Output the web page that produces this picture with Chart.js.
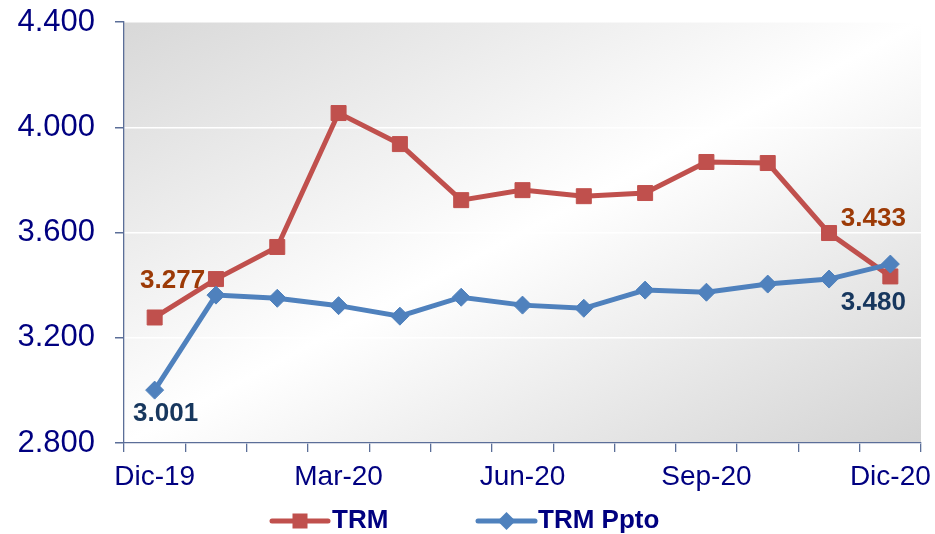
<!DOCTYPE html>
<html>
<head>
<meta charset="utf-8">
<script src="https://cdn.jsdelivr.net/npm/chart.js@4"></script>
<style>
html,body{margin:0;padding:0;background:#fff;}
#wrap{width:935px;height:534px;position:relative;}
</style>
</head>
<body>
<div id="wrap"><canvas id="c" width="935" height="534"></canvas></div>
<script>
const categories = ['Dic-19','Ene-20','Feb-20','Mar-20','Abr-20','May-20','Jun-20','Jul-20','Ago-20','Sep-20','Oct-20','Nov-20','Dic-20'];
const trm = [3277, 3423, 3545, 4054, 3936, 3723, 3761, 3738, 3750, 3868, 3864, 3598, 3433];
const trmPpto = [3001, 3362, 3350, 3322, 3282, 3354, 3324, 3312, 3381, 3373, 3404, 3423, 3480];
const yTicks = [2800, 3200, 3600, 4000, 4400];
const seriesNames = ['TRM', 'TRM Ppto'];

const FONT = "'Liberation Sans', Arial, sans-serif";
const AXIS = '#5B6E98';
const NAVY = '#000080';
const RED = '#C0504D';
const BLUE = '#4F81BD';

function fmt(v){ return (v/1000).toFixed(3); }

const bgPlugin = {
  id: 'bg',
  beforeDraw(chart){
    const {ctx, chartArea:a} = chart;
    ctx.save();
    ctx.translate(a.left, a.top);
    ctx.scale(a.right - a.left, a.bottom - a.top);
    const g = ctx.createLinearGradient(0,0,1,1);
    g.addColorStop(0, '#d8d8d8');
    g.addColorStop(0.5, '#ffffff');
    g.addColorStop(1, '#d3d3d3');
    ctx.fillStyle = g;
    ctx.fillRect(0,0,1,1);
    ctx.restore();
  }
};

// labels: [datasetIndex, pointIndex, dx, dy, color]
const labelSpecs = [
  [0, 0, 18, -37, '#9C3A06'],
  [0, 12, -17, -58, '#9C3A06'],
  [1, 0, 11, 24, '#17375E'],
  [1, 12, -17, 39, '#17375E']
];

const labelPlugin = {
  id: 'dlabels',
  afterDatasetsDraw(chart){
    const ctx = chart.ctx;
    ctx.save();
    ctx.font = 'bold 26px ' + FONT;
    ctx.textAlign = 'center';
    ctx.textBaseline = 'middle';
    labelSpecs.forEach(([d,i,dx,dy,col])=>{
      const el = chart.getDatasetMeta(d).data[i];
      const v = chart.data.datasets[d].data[i];
      ctx.fillStyle = col;
      ctx.fillText(fmt(v), el.x + dx, el.y + dy);
    });
    ctx.restore();
  }
};

const legendPlugin = {
  id: 'customLegend',
  afterDraw(chart){
    const ctx = chart.ctx;
    const y = 521;
    const items = [
      {x0: 272, x1: 328, color: RED, style: 'rect', tx: 332, text: seriesNames[0]},
      {x0: 478, x1: 535, color: BLUE, style: 'diamond', tx: 538, text: seriesNames[1]}
    ];
    ctx.save();
    items.forEach(it=>{
      ctx.strokeStyle = it.color;
      ctx.lineWidth = 5;
      ctx.lineCap = 'round';
      ctx.beginPath(); ctx.moveTo(it.x0, y); ctx.lineTo(it.x1, y); ctx.stroke();
      const cx = (it.x0 + it.x1)/2;
      ctx.fillStyle = it.color;
      if (it.style === 'rect') {
        ctx.fillRect(cx-7.5, y-7.5, 15, 15);
      } else {
        ctx.beginPath();
        ctx.moveTo(cx, y-9); ctx.lineTo(cx+9, y); ctx.lineTo(cx, y+9); ctx.lineTo(cx-9, y);
        ctx.closePath(); ctx.fill();
      }
      ctx.fillStyle = NAVY;
      ctx.font = 'bold 26px ' + FONT;
      ctx.textAlign = 'left';
      ctx.textBaseline = 'middle';
      ctx.fillText(it.text, it.tx, y);
    });
    ctx.restore();
  }
};

new Chart(document.getElementById('c'), {
  type: 'line',
  data: {
    labels: categories,
    datasets: [
      {
        label: seriesNames[0], data: trm,
        borderColor: RED, backgroundColor: RED, borderWidth: 5,
        pointStyle: 'rect', pointRadius: 10.6, pointBorderWidth: 1,
        pointBackgroundColor: RED, pointBorderColor: RED,
        tension: 0, order: 2
      },
      {
        label: seriesNames[1], data: trmPpto,
        borderColor: BLUE, backgroundColor: BLUE, borderWidth: 5,
        pointStyle: 'rectRot', pointRadius: 9, pointBorderWidth: 1,
        pointBackgroundColor: BLUE, pointBorderColor: BLUE,
        tension: 0, order: 1
      }
    ]
  },
  options: {
    responsive: false,
    animation: false,
    devicePixelRatio: 1,
    layout: { padding: { top: 22, right: 14, left: 0, bottom: 0 } },
    plugins: { legend: { display: false }, tooltip: { enabled: false } },
    scales: {
      x: {
        type: 'category',
        offset: true,
        afterFit(s){ s.height = 91; s.paddingLeft = 0; s.paddingRight = 0; },
        grid: { offset: true, drawOnChartArea: false, color: AXIS, tickLength: 9, lineWidth: 1.3 },
        border: { color: AXIS, width: 1.3 },
        ticks: {
          autoSkip: false, maxRotation: 0, minRotation: 0,
          padding: 8,
          color: NAVY,
          font: { family: FONT, size: 28 },
          callback(v, i){ return i % 3 === 0 ? categories[i] : ''; }
        }
      },
      y: {
        min: yTicks[0], max: yTicks[yTicks.length-1],
        afterFit(s){ s.width = 124; s.paddingTop = 0; s.paddingBottom = 0; },
        afterBuildTicks(s){ s.ticks = yTicks.map(v=>({value:v})); },
        grid: { color: '#ffffff', lineWidth: 1.5, tickColor: AXIS, tickLength: 9 },
        border: { color: AXIS, width: 1.3 },
        ticks: {
          padding: 20,
          color: NAVY,
          font: { family: FONT, size: 31 },
          callback(v){ return fmt(v); }
        }
      }
    }
  },
  plugins: [bgPlugin, labelPlugin, legendPlugin]
});
</script>
</body>
</html>
